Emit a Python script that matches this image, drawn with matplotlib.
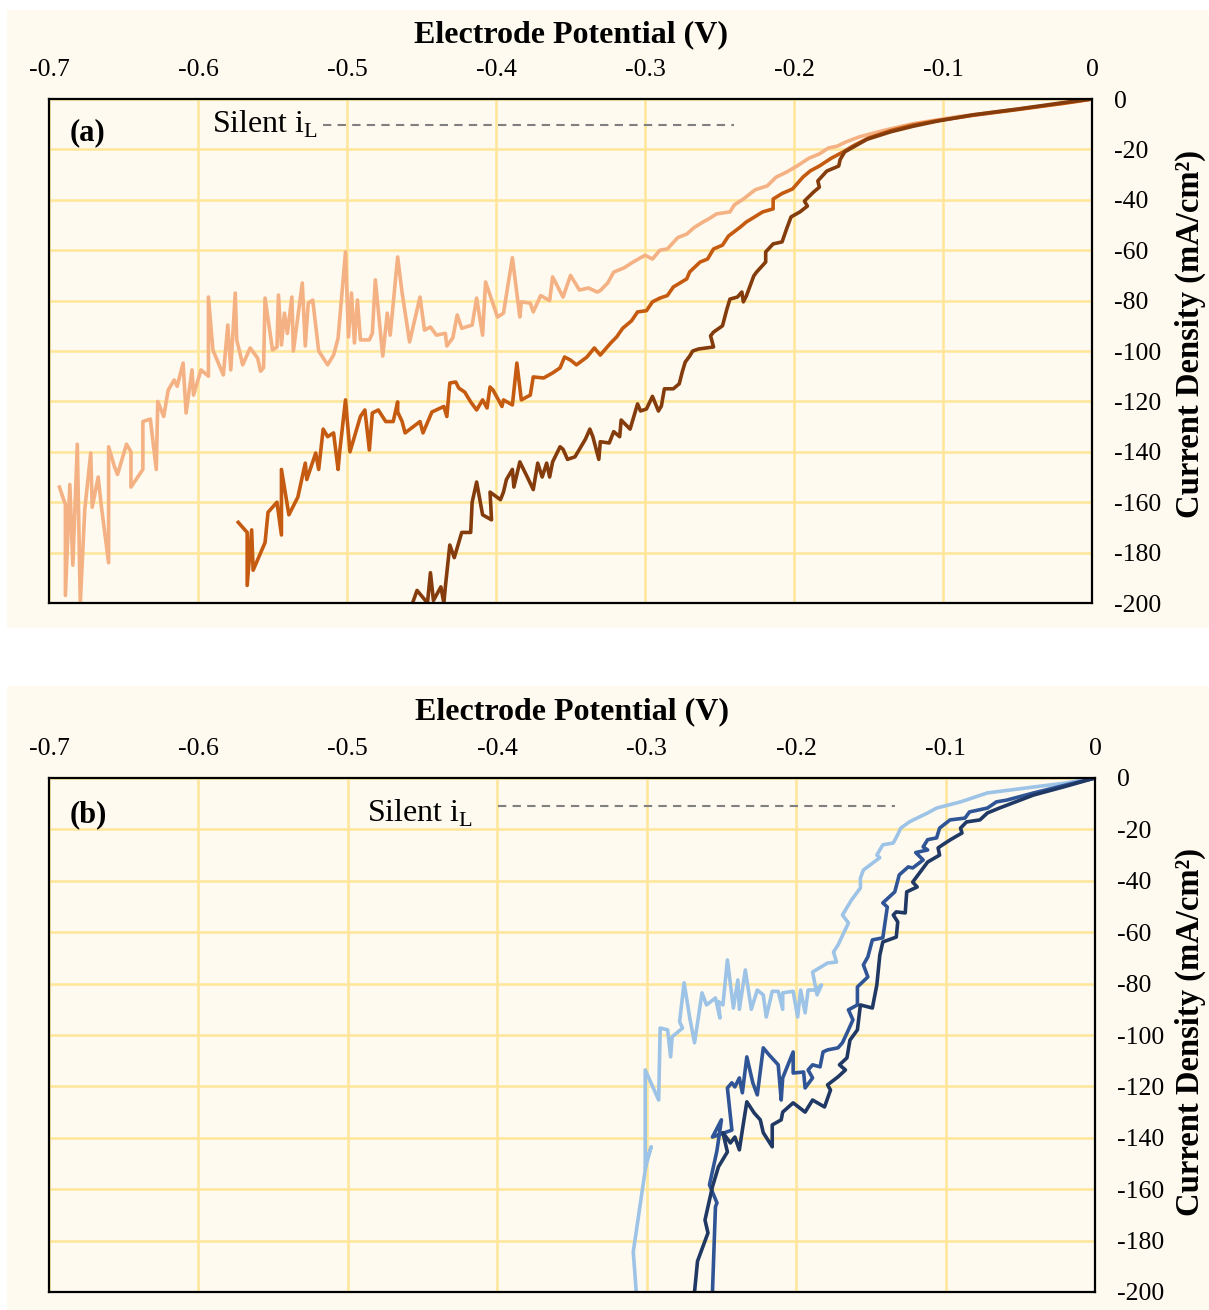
import numpy as np
import matplotlib
matplotlib.use("Agg")
import matplotlib.pyplot as plt
from matplotlib.patches import Rectangle

plt.rcParams['font.family'] = ['Liberation Serif', 'DejaVu Serif']

# tick labels as printed on the chart
x_ticks = [-0.7, -0.6, -0.5, -0.4, -0.3, -0.2, -0.1, 0.0]
x_tick_labels = ['-0.7', '-0.6', '-0.5', '-0.4', '-0.3', '-0.2', '-0.1', '0']
y_ticks = [0, -20, -40, -60, -80, -100, -120, -140, -160, -180, -200]
y_tick_labels = ['0', '-20', '-40', '-60', '-80', '-100', '-120', '-140', '-160', '-180', '-200']

# ---- panel (a): orange curves, potential (V) vs current density (mA/cm2) ----
a_light_x = [0, -0.01, -0.03, -0.05, -0.07, -0.09, -0.104, -0.12, -0.129, -0.14, -0.156, -0.165, -0.171,
             -0.177, -0.183, -0.19, -0.198, -0.205, -0.212, -0.218, -0.226, -0.234, -0.24, -0.243, -0.252,
             -0.257, -0.261, -0.267, -0.272, -0.278, -0.285, -0.29, -0.295, -0.3, -0.308, -0.314, -0.321,
             -0.325, -0.33, -0.332, -0.338, -0.344, -0.35, -0.355, -0.362, -0.364, -0.37, -0.375, -0.377,
             -0.383, -0.384, -0.389, -0.395, -0.399, -0.407, -0.409, -0.413, -0.416, -0.423, -0.426, -0.429,
             -0.433, -0.434, -0.44, -0.444, -0.448, -0.451, -0.458, -0.463, -0.466, -0.471, -0.473, -0.476,
             -0.481, -0.483, -0.485, -0.491, -0.493, -0.495, -0.497, -0.499, -0.501, -0.506, -0.509, -0.513,
             -0.519, -0.523, -0.526, -0.528, -0.53, -0.536, -0.537, -0.54, -0.542, -0.544, -0.546, -0.547,
             -0.55, -0.555, -0.556, -0.558, -0.56, -0.565, -0.57, -0.574, -0.575, -0.578, -0.58, -0.583,
             -0.59, -0.593, -0.593, -0.598, -0.603, -0.604, -0.608, -0.61, -0.614, -0.616, -0.62, -0.623,
             -0.627, -0.628, -0.632, -0.637, -0.637, -0.645, -0.645, -0.648, -0.654, -0.656, -0.66, -0.66,
             -0.665, -0.667, -0.671, -0.672, -0.676, -0.679, -0.681, -0.684, -0.686, -0.689, -0.689, -0.693]
a_light_y = [0, -1, -2.5, -4, -5.5, -7, -8.3, -9.8, -11, -12.5, -15, -17, -18.7,
             -19.5, -21.8, -23.5, -26.6, -29, -31, -34.5, -36, -39.7, -42, -44.8, -45.6,
             -47.5, -48.8, -51, -53.6, -55, -59.5, -60, -63.5, -62, -64.7, -67, -68.7,
             -73, -76, -76.6, -75, -75.8, -70, -78.6, -70.6, -80, -78, -84.5, -81,
             -80.5, -86.5, -63, -85, -86.5, -72.6, -93.7, -79, -89.7, -91, -85.7, -94.8,
             -98, -93, -93.7, -90.5, -91.7, -78.6, -96.4, -77, -62.7, -93.7, -85, -102,
             -71.8, -93, -95.6, -95.6, -79.8, -96.8, -77, -94.4, -60.7, -95, -101.6, -105.5,
             -100, -79.8, -81, -98, -73, -100, -78.6, -93, -85, -97.6, -77.8, -98.4,
             -99.6, -79, -106.7, -108, -102.8, -98.8, -105.5, -95.6, -77, -107.5, -89.7, -109.5,
             -99.6, -78.6, -110, -107.5, -117.5, -107.5, -124.6, -104.8, -114, -111.5, -115.5, -126,
             -120, -147, -127, -128, -147, -154, -140, -137, -149, -146, -138, -184,
             -161, -150, -162, -140.5, -163, -200, -137, -185, -153, -197, -161, -154]

a_mid_x = [0, -0.02, -0.05, -0.08, -0.104, -0.12, -0.135, -0.15, -0.16, -0.167, -0.175, -0.183, -0.189,
           -0.194, -0.201, -0.208, -0.214, -0.214, -0.221, -0.227, -0.232, -0.236, -0.244, -0.248, -0.254,
           -0.258, -0.263, -0.27, -0.272, -0.281, -0.285, -0.29, -0.295, -0.299, -0.305, -0.309, -0.315,
           -0.319, -0.323, -0.33, -0.334, -0.339, -0.346, -0.35, -0.354, -0.357, -0.362, -0.368, -0.375,
           -0.377, -0.383, -0.386, -0.389, -0.395, -0.396, -0.402, -0.404, -0.406, -0.409, -0.413, -0.417,
           -0.421, -0.425, -0.427, -0.431, -0.433, -0.435, -0.443, -0.449, -0.451, -0.461, -0.463, -0.466,
           -0.466, -0.469, -0.474, -0.479, -0.483, -0.485, -0.488, -0.491, -0.498, -0.501, -0.505, -0.506,
           -0.509, -0.513, -0.516, -0.519, -0.521, -0.527, -0.528, -0.533, -0.539, -0.544, -0.544, -0.547,
           -0.553, -0.555, -0.563, -0.564, -0.567, -0.567, -0.573]
a_mid_y = [0, -1.8, -4.2, -6.5, -8.6, -10.3, -12.5, -15.5, -18.5, -21, -23.5, -26.6, -28.5,
           -31, -35.7, -37.5, -39.7, -43.6, -44.8, -47, -48.8, -50.8, -54.4, -58, -59.5,
           -63.5, -64.7, -68.6, -71.4, -74.6, -78, -79, -80.5, -84, -84.5, -88, -91,
           -94.4, -96.8, -101.6, -98.8, -102.4, -105.5, -103.6, -102.4, -106.7, -108.7, -110.7, -110.3,
           -117.5, -119.4, -104.8, -121.4, -119.4, -122, -115.5, -114.3, -122.6, -119.4, -123.4, -120.2,
           -116.3, -114.7, -112.3, -112.7, -126, -122, -124.2, -132.5, -128, -132.5, -128, -124.2,
           -120.2, -128, -128, -123.4, -124.6, -139.3, -123.4, -126, -140, -119.4, -140.5, -147,
           -132.5, -134, -131, -147, -140.5, -151, -144.5, -158, -165, -147, -173, -160,
           -164, -176, -187, -171, -193, -172, -168]

a_dark_x = [0, -0.02, -0.05, -0.08, -0.104, -0.12, -0.135, -0.151, -0.16, -0.166, -0.169, -0.17, -0.178,
            -0.184, -0.183, -0.187, -0.193, -0.191, -0.196, -0.202, -0.205, -0.208, -0.214, -0.219, -0.219,
            -0.225, -0.227, -0.232, -0.234, -0.235, -0.238, -0.243, -0.245, -0.248, -0.254, -0.256, -0.254,
            -0.264, -0.268, -0.27, -0.273, -0.275, -0.277, -0.281, -0.287, -0.289, -0.291, -0.295, -0.299,
            -0.303, -0.305, -0.31, -0.316, -0.317, -0.321, -0.324, -0.33, -0.331, -0.335, -0.337, -0.34,
            -0.347, -0.352, -0.355, -0.357, -0.362, -0.364, -0.366, -0.369, -0.372, -0.375, -0.379, -0.384,
            -0.388, -0.389, -0.393, -0.395, -0.397, -0.404, -0.403, -0.409, -0.413, -0.416, -0.417, -0.423,
            -0.428, -0.431, -0.434, -0.435, -0.437, -0.442, -0.444, -0.446, -0.453, -0.456]
a_dark_y = [0, -1.5, -4, -6.3, -8.8, -10.8, -13, -16, -19, -21, -24, -26.6, -28.6,
            -32.5, -35, -37, -40.5, -42.5, -44.8, -46.8, -51.6, -56.7, -57.5, -60.7, -64.7,
            -68.6, -70.2, -78.2, -80.5, -76.6, -78.6, -79.4, -83.3, -90, -92.5, -94, -98.4,
            -99.2, -100, -102, -104.4, -108.3, -113, -115, -115, -121.8, -123.8, -118, -123,
            -123.8, -121, -131, -127.4, -134, -132, -136.5, -136, -143, -134, -131, -135,
            -142, -143, -139, -138, -144, -150, -144.5, -150, -144.5, -155, -150, -144,
            -154, -147, -151, -156, -159, -156, -167, -165, -152, -160, -172, -172,
            -182, -177, -193.6, -200, -193.6, -199, -188, -200, -195, -200]

# ---- panel (b): blue curves ----
b_light_x = [0, -0.02, -0.041, -0.072, -0.09, -0.106, -0.112, -0.124, -0.13, -0.132, -0.135, -0.142, -0.146,
             -0.144, -0.155, -0.157, -0.157, -0.163, -0.169, -0.165, -0.172, -0.175, -0.173, -0.179, -0.189,
             -0.186, -0.183, -0.187, -0.192, -0.194, -0.197, -0.199, -0.202, -0.209, -0.209, -0.212, -0.216,
             -0.22, -0.222, -0.226, -0.23, -0.234, -0.238, -0.239, -0.242, -0.246, -0.249, -0.252, -0.251,
             -0.254, -0.26, -0.263, -0.266, -0.268, -0.271, -0.275, -0.278, -0.276, -0.283, -0.284, -0.286,
             -0.291, -0.292, -0.301, -0.301, -0.297, -0.3, -0.309, -0.307]
b_light_y = [0, -2, -3.5, -5.8, -9.3, -11.7, -13.6, -17, -19.5, -22, -25.3, -26, -30,
             -31, -35.8, -39, -42.8, -47.5, -53.3, -56.4, -65, -67.7, -71.6, -72, -75.5,
             -84.4, -80.5, -82.5, -82.5, -91.4, -82.5, -93, -83, -83.6, -90, -83, -83,
             -93, -84.4, -82.5, -90, -74.7, -90, -78.6, -89.5, -70.8, -88.3, -87, -93.4,
             -85.6, -88.3, -83.6, -95.3, -103, -94, -79.7, -94.9, -97.3, -100.7, -108.5, -98,
             -97.3, -125.3, -113.6, -151.7, -143.5, -148.6, -184.4, -200]

b_mid_x = [0, -0.02, -0.041, -0.059, -0.066, -0.072, -0.084, -0.087, -0.097, -0.104, -0.106, -0.112, -0.115,
           -0.112, -0.12, -0.115, -0.122, -0.125, -0.131, -0.134, -0.142, -0.139, -0.142, -0.149, -0.152,
           -0.155, -0.152, -0.159, -0.159, -0.165, -0.162, -0.165, -0.169, -0.172, -0.179, -0.182, -0.184,
           -0.189, -0.192, -0.189, -0.194, -0.195, -0.202, -0.202, -0.209, -0.21, -0.212, -0.218, -0.222,
           -0.226, -0.229, -0.233, -0.236, -0.238, -0.241, -0.243, -0.246, -0.243, -0.256, -0.25, -0.253,
           -0.258, -0.253, -0.254, -0.256]
b_mid_y = [0, -2.8, -5.8, -8.6, -9.3, -11.7, -13.2, -15.6, -16.3, -19.5, -23.3, -24, -26.8,
           -28, -29, -31.9, -35, -34.6, -37.7, -44.3, -48.6, -50.2, -62.2, -63, -69.6,
           -72.7, -77.4, -81.3, -88.3, -90.2, -94.1, -98, -103, -105, -105.8, -106.6, -112.4,
           -111.6, -113.6, -116.7, -120.6, -114.4, -114.8, -106.6, -116.7, -125.3, -111.6, -107.8, -105,
           -123.3, -118.6, -108.5, -122.5, -116.7, -120.2, -118.6, -120.6, -137, -139.7, -133, -145,
           -158.3, -165.3, -166.9, -200]

b_dark_x = [0, -0.02, -0.041, -0.055, -0.064, -0.072, -0.077, -0.086, -0.09, -0.089, -0.097, -0.102, -0.105,
            -0.104, -0.112, -0.117, -0.122, -0.119, -0.126, -0.127, -0.133, -0.135, -0.132, -0.133, -0.142,
            -0.144, -0.146, -0.149, -0.157, -0.159, -0.164, -0.166, -0.171, -0.167, -0.172, -0.179, -0.177,
            -0.181, -0.189, -0.194, -0.202, -0.209, -0.21, -0.216, -0.216, -0.222, -0.224, -0.228, -0.233,
            -0.236, -0.238, -0.241, -0.244, -0.249, -0.246, -0.252, -0.256, -0.261, -0.259, -0.266, -0.268]
b_dark_y = [0, -3.3, -6.6, -9.7, -11.7, -13.6, -16.3, -17.1, -19.5, -21.4, -24.1, -26, -27.2,
            -30, -32.7, -36.6, -40.5, -42.4, -44.3, -52.5, -52.1, -53.3, -56, -61.9, -63.8,
            -68.9, -80.5, -89.5, -88.3, -98, -102, -108.9, -111.6, -113.6, -116.3, -119.4, -121.4,
            -128, -125.3, -130, -126.4, -130, -133, -135, -143.5, -138, -133, -130.4, -126,
            -137, -144.7, -139.7, -142, -138, -145.5, -151.3, -159, -172, -177, -188, -200]

# "Silent iL" reference line (x start, x end, y)
a_silent = (-0.516, -0.240, -10.3)
b_silent = (-0.3995, -0.134, -10.9)

bg = '#FFFAEF'
grid_col = '#FFE699'

fig = plt.figure(figsize=(12.09, 13.10), dpi=100)
# cream panel backgrounds, kept behind the axes
fig.patches.append(Rectangle((7 / 1209, 1 - 628 / 1310), 1, 618 / 1310, transform=fig.transFigure,
                             facecolor=bg, edgecolor='none', zorder=-1))
fig.patches.append(Rectangle((7 / 1209, 0), 1, 1 - 686 / 1310, transform=fig.transFigure,
                             facecolor=bg, edgecolor='none', zorder=-1))

ax_a = fig.add_axes([49 / 1209, 1 - 603 / 1310, 1043 / 1209, 504 / 1310])
ax_b = fig.add_axes([49 / 1209, 1 - 1292 / 1310, 1046 / 1209, 514 / 1310])


def setup_axes(ax):
    ax.set_facecolor(bg)
    ax.set_xlim(-0.7, 0)
    ax.set_ylim(-200, 0)
    ax.set_xticks(x_ticks)
    ax.set_xticklabels(x_tick_labels)
    ax.set_yticks(y_ticks)
    ax.set_yticklabels(y_tick_labels)
    ax.xaxis.tick_top()
    ax.yaxis.tick_right()
    ax.tick_params(axis='x', length=0, pad=13, labelsize=18.5)
    ax.tick_params(axis='y', length=0, pad=16, labelsize=18.5)
    ax.grid(True, color=grid_col, linewidth=1.8)
    ax.set_axisbelow(True)
    for s in ax.spines.values():
        s.set_color('black')
        s.set_linewidth(1.6)
        s.set_zorder(5)
    ax.xaxis.set_label_position('top')
    ax.yaxis.set_label_position('right')
    ax.set_xlabel('Electrode Potential (V)', fontsize=23, fontweight='bold', va='center')
    ax.set_ylabel('Current Density (mA/cm²)', fontsize=23.5, fontweight='bold', va='center',
                  rotation=90)


setup_axes(ax_a)
setup_axes(ax_b)
ax_a.xaxis.set_label_coords(0.5, 1 + 64 / 504)
ax_b.xaxis.set_label_coords(0.5, 1 + 66 / 514)
ax_a.yaxis.set_label_coords((1190 - 49) / 1043, 0.534)
ax_b.yaxis.set_label_coords((1190 - 49) / 1046, 0.506)

lw = 2.6
ax_a.plot(a_light_x, a_light_y, color='#F4B183', lw=lw, zorder=3)
ax_a.plot(a_mid_x, a_mid_y, color='#C55A11', lw=lw, zorder=3)
ax_a.plot(a_dark_x, a_dark_y, color='#843C0C', lw=lw, zorder=3)

ax_b.plot(b_light_x, b_light_y, color='#9DC3E6', lw=lw, zorder=3)
ax_b.plot(b_mid_x, b_mid_y, color='#2F5597', lw=lw, zorder=3)
ax_b.plot(b_dark_x, b_dark_y, color='#1F3864', lw=lw, zorder=3)

# silent limiting current marker
for ax, sil, tx, ty in [(ax_a, a_silent, -0.5906, -13.5), (ax_b, b_silent, -0.4871, -17.1)]:
    ax.plot([sil[0], sil[1]], [sil[2], sil[2]], color='#808080', lw=1.5, ls=(0, (4, 3)), zorder=4)
    ax.text(tx, ty, r'Silent i$_\mathregular{L}$', fontsize=23, va='baseline', ha='left', zorder=4)

ax_a.text(21 / 1043, 1 - 34 / 504, '(a)', transform=ax_a.transAxes, fontsize=22,
          fontweight='bold', va='center', ha='left')
ax_b.text(21 / 1046, 1 - 37 / 514, '(b)', transform=ax_b.transAxes, fontsize=22,
          fontweight='bold', va='center', ha='left')

fig.savefig('out.png', dpi=100, facecolor='white')
